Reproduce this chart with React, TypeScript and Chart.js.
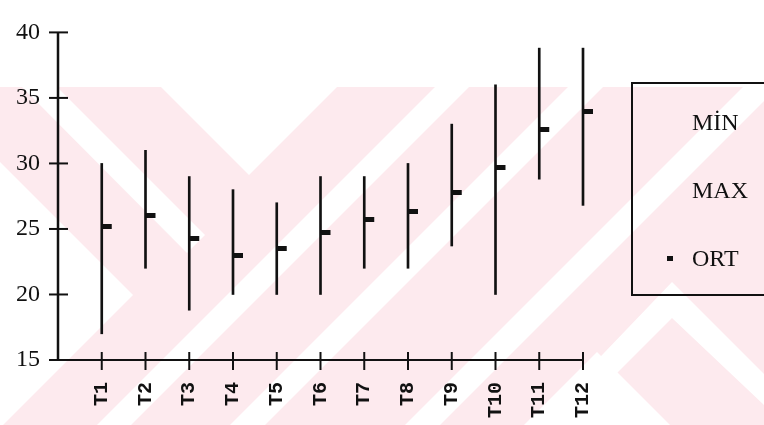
import React, { useEffect, useRef } from 'react';
import { Chart, registerables } from 'chart.js';

Chart.register(...registerables);

// ---- data ----
const categories = ['T1', 'T2', 'T3', 'T4', 'T5', 'T6', 'T7', 'T8', 'T9', 'T10', 'T11', 'T12'];
const minValues = [17, 22, 18.8, 20, 20, 20, 22, 22, 23.7, 20, 28.8, 26.8];
const maxValues = [30, 31, 29, 28, 27, 29, 29, 30, 33, 36, 38.8, 38.8];
const ortValues = [25.2, 26, 24.3, 23, 23.5, 24.7, 25.7, 26.3, 27.8, 29.7, 32.6, 34];
const yTicks = [15, 20, 25, 30, 35, 40];
const legendLabels = ['MİN', 'MAX', 'ORT'];

const PINK = '#fdeaee';
const INK = '#111';
const SERIF = 'Liberation Serif, DejaVu Serif, serif';
const MONO = 'Liberation Mono, DejaVu Sans Mono, monospace';

function makeOrtMarker(): HTMLCanvasElement {
  const c = document.createElement('canvas');
  c.width = 22;
  c.height = 5;
  const g = c.getContext('2d')!;
  g.fillStyle = INK;
  g.fillRect(11, 0, 10, 5);
  return c;
}

function poly(ctx: CanvasRenderingContext2D, pts: number[][]) {
  ctx.beginPath();
  pts.forEach(([x, y], i) => (i ? ctx.lineTo(x, y) : ctx.moveTo(x, y)));
  ctx.closePath();
  ctx.fill();
}

const watermarkPlugin = {
  id: 'watermark',
  beforeDraw(chart: any) {
    const ctx: CanvasRenderingContext2D = chart.ctx;
    const W = chart.width;
    const H = chart.height;
    const top = 87;
    ctx.save();
    ctx.beginPath();
    ctx.rect(0, top, W, H - top);
    ctx.clip();
    ctx.fillStyle = PINK;
    ctx.fillRect(0, top, W, H - top);
    ctx.fillStyle = '#fff';
    // V notch
    poly(ctx, [[161, top], [337, top], [249, 175]]);
    // upper-left "\" band
    poly(ctx, [[22, top], [57, top], [205, 235], [187, 253]]);
    // left wedge
    poly(ctx, [[0, 162], [133, 295], [0, 428]]);
    // "/" stripes
    const slash = (c1: number, c2: number) =>
      poly(ctx, [[c1 - top, top], [c2 - top, top], [c2 - H, H], [c1 - H, H]]);
    slash(522, 556);
    slash(655, 690);
    slash(830, 865);
    // bottom-right peaks
    poly(ctx, [[597, 352], [524, 425], [670, 425]]);
    poly(ctx, [[672, 282], [815, 425], [785, 425], [672, 318], [565, 425], [535, 425]]);
    ctx.restore();
  },
};

const axesPlugin = {
  id: 'crossAxes',
  afterDatasetsDraw(chart: any) {
    const ctx: CanvasRenderingContext2D = chart.ctx;
    const x = chart.scales.x;
    const y = chart.scales.y;
    const left = x.getPixelForValue(0);
    const right = x.getPixelForValue(categories.length);
    const bottom = y.getPixelForValue(yTicks[0]);
    const topY = y.getPixelForValue(yTicks[yTicks.length - 1]);
    ctx.save();
    ctx.strokeStyle = INK;
    ctx.lineWidth = 2.5;
    ctx.beginPath();
    ctx.moveTo(left, topY);
    ctx.lineTo(left, bottom + 1);
    ctx.stroke();
    ctx.lineWidth = 2;
    ctx.beginPath();
    ctx.moveTo(left, bottom);
    ctx.lineTo(right, bottom);
    ctx.stroke();
    yTicks.forEach((v) => {
      const py = y.getPixelForValue(v);
      ctx.beginPath();
      ctx.moveTo(left - 9, py);
      ctx.lineTo(left + 10, py);
      ctx.stroke();
    });
    categories.forEach((_, i) => {
      const px = x.getPixelForValue(i + 1);
      ctx.beginPath();
      ctx.moveTo(px, bottom - 8);
      ctx.lineTo(px, bottom + 10);
      ctx.stroke();
    });
    ctx.restore();
  },
  afterDraw(chart: any) {
    const ctx: CanvasRenderingContext2D = chart.ctx;
    ctx.save();
    ctx.strokeStyle = INK;
    ctx.lineWidth = 2;
    ctx.strokeRect(632, 83, 150, 212);
    ctx.fillStyle = INK;
    ctx.font = '24px ' + SERIF;
    ctx.textAlign = 'left';
    ctx.textBaseline = 'middle';
    const ys = [124, 192, 260];
    legendLabels.forEach((t, i) => ctx.fillText(t, 692, ys[i]));
    ctx.fillRect(667, 256, 6, 5);
    ctx.restore();
  },
};

export default function App() {
  const ref = useRef<HTMLCanvasElement>(null);
  useEffect(() => {
    if (!ref.current) return;
    const labels = ['', ...categories];
    const chart = new Chart(ref.current, {
      type: 'bar',
      data: {
        labels,
        datasets: [
          {
            type: 'bar',
            label: 'MİN-MAX',
            data: [null, ...categories.map((_, i) => [minValues[i], maxValues[i]])] as any,
            backgroundColor: INK,
            borderWidth: 0,
            barThickness: 2,
            clip: false as any,
            order: 2,
          },
          {
            type: 'line',
            label: 'ORT',
            data: [null, ...ortValues] as any,
            showLine: false,
            pointStyle: makeOrtMarker() as any,
            pointRadius: 5,
            clip: false,
            order: 1,
          } as any,
        ],
      },
      options: {
        responsive: false,
        animation: false,
        layout: { padding: { top: 20, right: 181, left: 0, bottom: 0 } },
        plugins: { legend: { display: false }, tooltip: { enabled: false } },
        scales: {
          x: {
            type: 'category',
            offset: false,
            grid: { display: false, drawTicks: false },
            border: { display: false },
            ticks: {
              autoSkip: false,
              minRotation: 90,
              maxRotation: 90,
              padding: 22,
              color: INK,
              font: { family: MONO, size: 20, weight: 'bold' },
              callback: (_v: any, i: number) => labels[i],
            },
            afterFit: (s: any) => {
              s.height = 65;
            },
          },
          y: {
            min: 15,
            max: 40,
            grid: { display: false, drawTicks: false },
            border: { display: false },
            afterBuildTicks: (s: any) => {
              s.ticks = yTicks.map((v) => ({ value: v }));
            },
            ticks: {
              padding: 18,
              color: INK,
              font: { family: SERIF, size: 24 },
            },
            afterFit: (s: any) => {
              s.width = 58;
            },
          },
        },
      },
      plugins: [watermarkPlugin, axesPlugin],
    });
    return () => chart.destroy();
  }, []);
  return (
    <div style={{ position: 'fixed', left: 0, top: 0, width: 764, height: 425, background: '#fff' }}>
      <canvas ref={ref} width={764} height={425} />
    </div>
  );
}
